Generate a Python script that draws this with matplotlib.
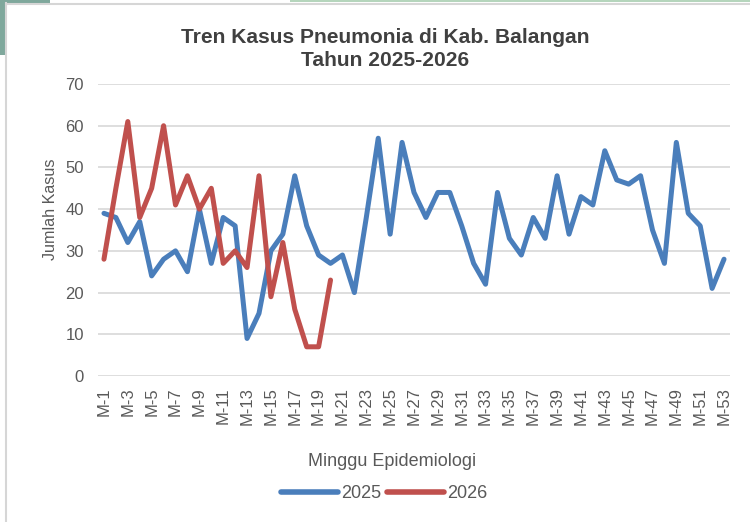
import matplotlib
matplotlib.use("Agg")
import matplotlib.pyplot as plt
from matplotlib.patches import Rectangle
from matplotlib.lines import Line2D

weeks = [f"M-{i}" for i in range(1, 54)]
cases_2025 = [39, 38, 32, 37, 24, 28, 30, 25, 40, 27, 38, 36, 9, 15, 30, 34, 48, 36, 29, 27,
              29, 20, 38, 57, 34, 56, 44, 38, 44, 44, 36, 27, 22, 44, 33, 29, 38, 33, 48, 34,
              43, 41, 54, 47, 46, 48, 35, 27, 56, 39, 36, 21, 28]
cases_2026 = [28, 45, 61, 38, 45, 60, 41, 48, 40, 45, 27, 30, 26, 48, 19, 32, 16, 7, 7, 23]
series_names = ["2025", "2026"]
yticks = [0, 10, 20, 30, 40, 50, 60, 70]

BLUE = "#4A7EBB"
RED = "#C0504D"
TXT = "#595959"
FONT = ["Liberation Sans", "DejaVu Sans"]

W, H = 750, 522
fig = plt.figure(figsize=(W / 100, H / 100), dpi=100)

# decorative screenshot frame
fig.patches.append(Rectangle((0, 1 - 55 / H), 5 / W, 55 / H, transform=fig.transFigure,
                             facecolor="#7FA89C", edgecolor="none", zorder=0))
fig.patches.append(Rectangle((0, 1 - 3 / H), 50 / W, 3 / H, transform=fig.transFigure,
                             facecolor="#7FA89C", edgecolor="none", zorder=0))
fig.patches.append(Rectangle((290 / W, 1 - 2 / H), 460 / W, 2 / H, transform=fig.transFigure,
                             facecolor="#B5D5BC", edgecolor="none", zorder=0))
fig.lines.append(Line2D([6 / W, 6 / W], [0, 1 - 3 / H], transform=fig.transFigure,
                        color="#D6D6D6", lw=1.5))
fig.lines.append(Line2D([6 / W, 1], [1 - 3.5 / H, 1 - 3.5 / H], transform=fig.transFigure,
                        color="#D6D6D6", lw=1.5))

left, right, top, bottom = 98, 730, 84, 376
ax = fig.add_axes([left / W, 1 - bottom / H, (right - left) / W, (bottom - top) / H])

x25 = list(range(len(cases_2025)))
x26 = list(range(len(cases_2026)))
ax.plot(x25, cases_2025, color=BLUE, lw=3.6, solid_joinstyle="round",
        solid_capstyle="round", label=series_names[0], zorder=3)
ax.plot(x26, cases_2026, color=RED, lw=3.6, solid_joinstyle="round",
        solid_capstyle="round", label=series_names[1], zorder=4)

ax.set_xlim(-0.5, len(weeks) - 0.5)
ax.set_ylim(0, 70)
ax.set_yticks(yticks)
ax.set_xticks(list(range(0, len(weeks), 2)))
ax.set_xticklabels(weeks[::2], rotation=90, fontsize=12, color=TXT, family=FONT)
ax.set_yticklabels([str(v) for v in yticks], fontsize=12, color=TXT, family=FONT)
ax.tick_params(axis="both", length=0)
ax.tick_params(axis="y", pad=10)
ax.tick_params(axis="x", pad=8)
ax.grid(axis="y", color="#DEDEDE", lw=1.4)
ax.set_axisbelow(True)
for s in ax.spines.values():
    s.set_visible(False)

ax.set_xlabel("Minggu Epidemiologi", fontsize=13, color=TXT, family=FONT)
ax.xaxis.label.set_va("center")
ax.xaxis.set_label_coords((392 - left) / (right - left), (bottom - 461) / (bottom - top))
ax.set_ylabel("Jumlah Kasus", fontsize=11.6, color=TXT, family=FONT)
ax.yaxis.label.set_va("center")
ax.yaxis.set_label_coords((51 - left) / (right - left), (bottom - 209) / (bottom - top))

fig.text(385 / W, 1 - 49 / H, "Tren Kasus Pneumonia di Kab. Balangan\nTahun 2025-2026",
         ha="center", va="center", fontsize=15.1, fontweight="bold", color="#404040",
         family=FONT, linespacing=1.25)

leg = fig.legend(loc="center", bbox_to_anchor=(384 / W, 1 - 494 / H), ncol=2, frameon=False,
                 handlelength=3.2, handletextpad=0.15, columnspacing=0.3,
                 prop={"family": FONT, "size": 13})
for t in leg.get_texts():
    t.set_color(TXT)
for l in leg.get_lines():
    l.set_linewidth(4.0)
    l.set_solid_capstyle("round")

fig.savefig("out.png", dpi=100, facecolor="white")
